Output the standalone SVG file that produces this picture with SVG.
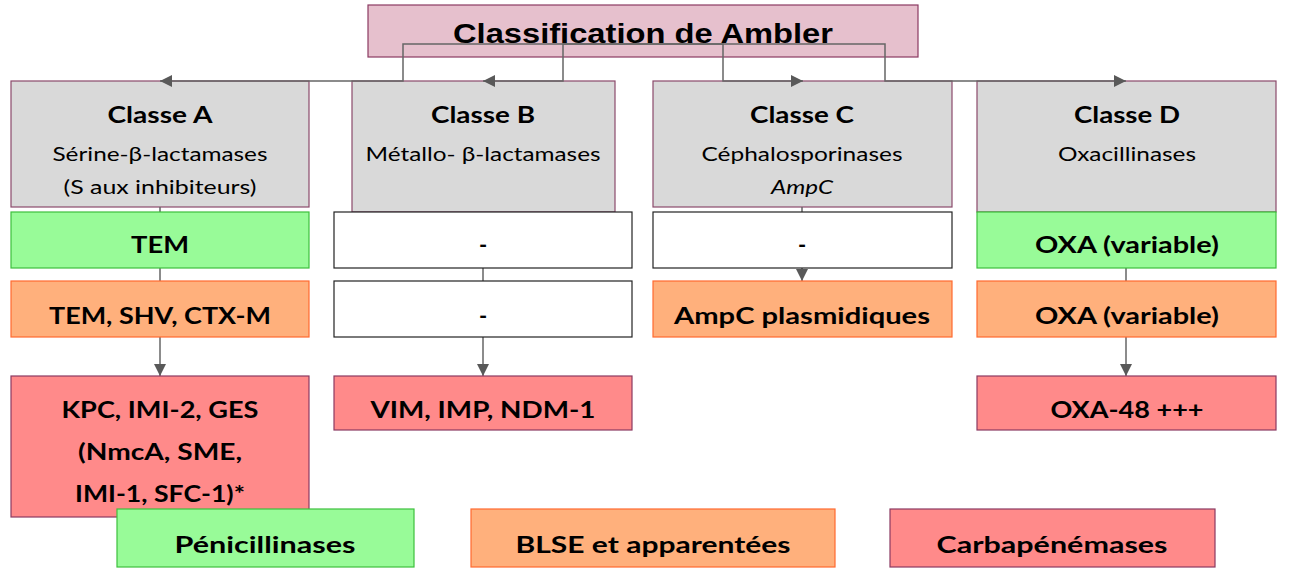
<svg xmlns="http://www.w3.org/2000/svg" width="1289" height="569" viewBox="0 0 1289 569">
<style>
text{font-family:Lato,"Open Sans",sans-serif;fill:#000;text-anchor:middle}
.b{font-weight:bold;font-size:22px}
.s{font-size:18.5px}
.t{font-family:"Liberation Sans",Arial,sans-serif;font-weight:bold;font-size:28px}
.hd{fill:#d9d9d9;stroke:#8b4a6b;stroke-width:1.2}
.gr{fill:#98fb98;stroke:#3cc03c;stroke-width:1.2}
.or{fill:#ffb07c;stroke:#ff6a30;stroke-width:1.2}
.rd{fill:#ff8a8a;stroke:#8b3a62;stroke-width:1.2}
.wh{fill:#fff;stroke:#222;stroke-width:1.2}
.ti{fill:#e6c0cd;stroke:#8b3a62;stroke-width:1.2}
.c{fill:none;stroke:#666;stroke-width:1.5}
.ca{fill:none;stroke:#666;stroke-width:1.5;marker-end:url(#ah)}
</style>
<defs>
<marker id="ah" viewBox="0 0 10 10" refX="10" refY="5" markerWidth="12" markerHeight="12" markerUnits="userSpaceOnUse" orient="auto">
<path d="M0,0 L10,5 L0,10 z" fill="#595959"/>
</marker>
</defs>
<g id="title"><rect class="ti" x="368" y="5" width="550" height="52"/><text class="t" x="643" y="43" textLength="380" lengthAdjust="spacingAndGlyphs">Classification de Ambler</text></g>
<g id="classA"><rect class="hd" x="11" y="81" width="298" height="126"/><text class="b" x="160" y="123" textLength="105" lengthAdjust="spacingAndGlyphs">Classe A</text><text class="s" x="160" y="161" textLength="215" lengthAdjust="spacingAndGlyphs">Sérine-β-lactamases</text><text class="s" x="160" y="194" textLength="193" lengthAdjust="spacingAndGlyphs">(S aux inhibiteurs)</text></g>
<g id="classB"><rect class="hd" x="352" y="81" width="263" height="131"/><text class="b" x="483" y="123" textLength="104" lengthAdjust="spacingAndGlyphs">Classe B</text><text class="s" x="483" y="161" textLength="235" lengthAdjust="spacingAndGlyphs">Métallo- β-lactamases</text></g>
<g id="classC"><rect class="hd" x="653" y="81" width="299" height="126"/><text class="b" x="802" y="123" textLength="104" lengthAdjust="spacingAndGlyphs">Classe C</text><text class="s" x="802" y="161" textLength="201" lengthAdjust="spacingAndGlyphs">Céphalosporinases</text><text class="s" x="802" y="194" font-style="italic" textLength="62" lengthAdjust="spacingAndGlyphs">AmpC</text></g>
<g id="classD"><rect class="hd" x="977" y="81" width="299" height="131"/><text class="b" x="1127" y="123" textLength="106" lengthAdjust="spacingAndGlyphs">Classe D</text><text class="s" x="1127" y="161" textLength="138" lengthAdjust="spacingAndGlyphs">Oxacillinases</text></g>
<g id="connectors">
<path class="c" d="M643,44 H403 V81 H166"/>
<path class="ca" d="M166,81 H160"/>
<path class="ca" d="M643,44 H563 V81 H483"/>
<path class="ca" d="M643,44 H723 V81 H803"/>
<path class="ca" d="M643,44 H885 V81 H1126"/>
<path class="c" d="M160,207 V212 M160,268 V281 M483,212 V214 M483,268 V281 M802,207 V212 M1126,212 V218 M1126,268 V281"/>
<path class="ca" d="M160,337 V376"/>
<path class="ca" d="M483,337 V376"/>
<path class="ca" d="M1126,337 V376"/>
<path class="ca" d="M802,268 V281"/>
</g>
<g id="a1"><rect class="gr" x="11" y="212" width="298" height="56"/><text class="b" x="160" y="253" textLength="58" lengthAdjust="spacingAndGlyphs">TEM</text></g>
<g id="b1"><rect class="wh" x="334" y="212" width="298" height="56"/><text class="b" x="483" y="253">-</text></g>
<g id="c1"><rect class="wh" x="653" y="212" width="299" height="56"/><text class="b" x="802" y="253">-</text></g>
<g id="d1"><rect class="gr" x="977" y="212" width="299" height="56"/><text class="b" x="1127" y="253" textLength="184" lengthAdjust="spacingAndGlyphs">OXA (variable)</text></g>
<g id="a2"><rect class="or" x="11" y="281" width="298" height="56"/><text class="b" x="160" y="324" textLength="222" lengthAdjust="spacingAndGlyphs">TEM, SHV, CTX-M</text></g>
<g id="b2"><rect class="wh" x="334" y="281" width="298" height="56"/><text class="b" x="483" y="324">-</text></g>
<g id="c2"><rect class="or" x="653" y="281" width="299" height="56"/><text class="b" x="802" y="324" textLength="256" lengthAdjust="spacingAndGlyphs">AmpC plasmidiques</text></g>
<g id="d2"><rect class="or" x="977" y="281" width="299" height="56"/><text class="b" x="1127" y="324" textLength="184" lengthAdjust="spacingAndGlyphs">OXA (variable)</text></g>
<g id="a3"><rect class="rd" x="11" y="376" width="298" height="141"/><text class="b" x="160" y="418" textLength="197" lengthAdjust="spacingAndGlyphs">KPC, IMI-2, GES</text><text class="b" x="160" y="460" textLength="164" lengthAdjust="spacingAndGlyphs">(NmcA, SME,</text><text class="b" x="160" y="502" textLength="170" lengthAdjust="spacingAndGlyphs">IMI-1, SFC-1)*</text></g>
<g id="b3"><rect class="rd" x="334" y="376" width="298" height="54"/><text class="b" x="483" y="418" textLength="225" lengthAdjust="spacingAndGlyphs">VIM, IMP, NDM-1</text></g>
<g id="d3"><rect class="rd" x="977" y="376" width="299" height="54"/><text class="b" x="1127" y="418" textLength="153" lengthAdjust="spacingAndGlyphs">OXA-48 +++</text></g>
<g id="legend1"><rect class="gr" x="117" y="509" width="297" height="58"/><text class="b" x="265" y="553" textLength="181" lengthAdjust="spacingAndGlyphs">Pénicillinases</text></g>
<g id="legend2"><rect class="or" x="471" y="509" width="364" height="58"/><text class="b" x="653" y="553" textLength="275" lengthAdjust="spacingAndGlyphs">BLSE et apparentées</text></g>
<g id="legend3"><rect class="rd" x="890" y="509" width="325" height="58"/><text class="b" x="1052" y="553" textLength="231" lengthAdjust="spacingAndGlyphs">Carbapénémases</text></g>
</svg>
